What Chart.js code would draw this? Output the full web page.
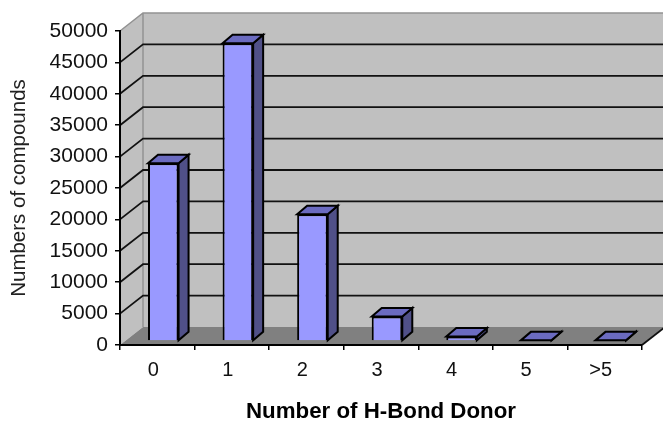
<!DOCTYPE html>
<html>
<head>
<meta charset="utf-8">
<style>
  html, body { margin: 0; padding: 0; background: #fff; }
  #wrap { width: 663px; height: 421px; }
  canvas { filter: blur(0.45px); }
</style>
<script src="https://cdn.jsdelivr.net/npm/chart.js@4"></script>
</head>
<body>
<div id="wrap"><canvas id="donorChart" width="663" height="421"></canvas></div>
<script>
// Data
const categories = ['0', '1', '2', '3', '4', '5', '>5'];
const compounds = [28300, 47400, 20200, 3900, 700, 100, 100];
const yMax = 50000;
const yStep = 5000;

// fake Excel 3D look
const wallDepth = { x: 23, y: -18 };
const barShift = { x: 6, y: -4 };
const barDepth = { x: 10, y: -8.5 };

function poly(ctx, pts, fill, stroke, width) {
    ctx.beginPath();
    pts.forEach((p, i) => i ? ctx.lineTo(p[0], p[1]) : ctx.moveTo(p[0], p[1]));
    ctx.closePath();
    if (fill) { ctx.fillStyle = fill; ctx.fill(); }
    if (stroke) { ctx.strokeStyle = stroke; ctx.lineWidth = width; ctx.stroke(); }
}

const walls = {
    id: 'walls',
    beforeDraw(chart) {
        const { ctx, chartArea: a, scales: { y } } = chart;
        const dx = wallDepth.x, dy = wallDepth.y;
        ctx.save();
        // side wall, back wall, floor
        poly(ctx, [[a.left, a.top], [a.left + dx, a.top + dy], [a.left + dx, a.bottom + dy], [a.left, a.bottom]], '#c0c0c0');
        poly(ctx, [[a.left + dx, a.top + dy], [a.right + dx, a.top + dy], [a.right + dx, a.bottom + dy], [a.left + dx, a.bottom + dy]], '#c0c0c0');
        poly(ctx, [[a.left, a.bottom], [a.left + dx, a.bottom + dy], [a.right + dx, a.bottom + dy], [a.right, a.bottom]], '#808080');
        // wall outline
        ctx.strokeStyle = '#929292';
        ctx.lineWidth = 1.5;
        ctx.beginPath();
        ctx.moveTo(a.left, a.top);
        ctx.lineTo(a.left + dx, a.top + dy);
        ctx.lineTo(a.right + dx, a.top + dy);
        ctx.moveTo(a.left + dx, a.top + dy);
        ctx.lineTo(a.left + dx, a.bottom + dy);
        ctx.stroke();
        // gridlines go along the side wall then across the back
        ctx.strokeStyle = '#111';
        ctx.lineWidth = 1.8;
        y.ticks.forEach(t => {
            if (t.value === 0 || t.value === yMax) return;
            const py = y.getPixelForValue(t.value);
            ctx.beginPath();
            ctx.moveTo(a.left, py);
            ctx.lineTo(a.left + dx, py + dy);
            ctx.lineTo(a.right + dx, py + dy);
            ctx.stroke();
        });
        // floor edge on the right
        ctx.beginPath();
        ctx.moveTo(a.right, a.bottom);
        ctx.lineTo(a.right + dx, a.bottom + dy);
        ctx.stroke();
        ctx.restore();
    }
};

const bars3d = {
    id: 'bars3d',
    beforeDatasetDraw(chart, args) {
        const { ctx } = chart;
        const dx = barDepth.x, dy = barDepth.y;
        ctx.save();
        ctx.translate(barShift.x, barShift.y);
        chart.getDatasetMeta(args.index).data.forEach(bar => {
            const l = bar.x - bar.width / 2, r = bar.x + bar.width / 2;
            poly(ctx, [[r, bar.y], [r + dx, bar.y + dy], [r + dx, bar.base + dy], [r, bar.base]], '#505088', '#000', 2);
            poly(ctx, [[l, bar.y], [l + dx, bar.y + dy], [r + dx, bar.y + dy], [r, bar.y]], '#6b6bc0', '#000', 2);
        });
    },
    afterDatasetDraw(chart) {
        chart.ctx.restore();
    }
};

new Chart(document.getElementById('donorChart').getContext('2d'), {
    type: 'bar',
    data: {
        labels: categories,
        datasets: [{
            label: 'Number of compounds',
            data: compounds,
            backgroundColor: '#9999ff',
            borderColor: '#000',
            borderWidth: 2,
            barPercentage: 0.41,
            categoryPercentage: 1,
            clip: false
        }]
    },
    plugins: [walls, bars3d],
    options: {
        responsive: false,
        animation: false,
        layout: { padding: { top: 31, right: 21, left: 0, bottom: 0 } },
        plugins: { legend: { display: false }, tooltip: { enabled: false } },
        scales: {
            x: {
                afterFit(s) { s.height = 76; },
                grid: { drawOnChartArea: false, color: '#000', lineWidth: 1.5, tickLength: 5 },
                border: { color: '#000', width: 2 },
                ticks: { color: '#111', font: { family: 'Liberation Sans', size: 20 }, padding: 8, labelOffset: -4, maxRotation: 0, autoSkip: false },
                title: { display: true, text: 'Number of H-Bond Donor', color: '#000', font: { family: 'Liberation Sans', size: 22.3, weight: 'bold', lineHeight: 0.85 }, padding: { top: 0, bottom: 0 } }
            },
            y: {
                min: 0,
                max: yMax,
                afterFit(s) { s.width = 120; },
                grid: { drawOnChartArea: false, color: '#000', lineWidth: 1.5, tickLength: 5 },
                border: { color: '#000', width: 2 },
                ticks: { stepSize: yStep, color: '#111', font: { family: 'Liberation Sans', size: 21 }, padding: 7, autoSkip: false, callback: v => String(v) },
                title: { display: true, text: 'Numbers of compounds', color: '#222', font: { family: 'Liberation Sans', size: 20.5 }, padding: { top: 7, bottom: 0 } }
            }
        }
    }
});
</script>
</body>
</html>
